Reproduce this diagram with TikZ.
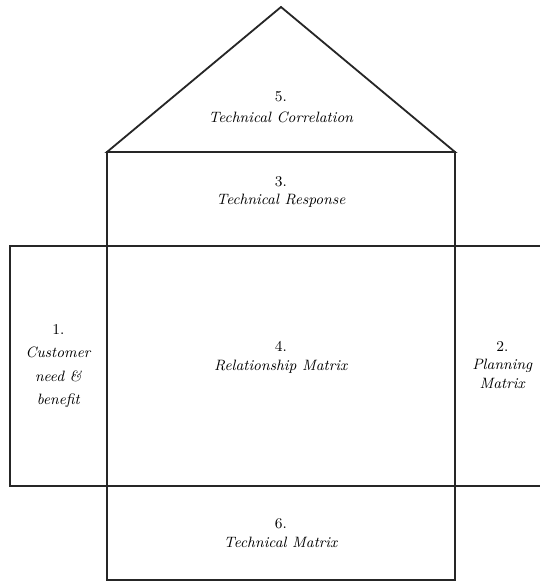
\documentclass[tikz,border=0pt]{standalone}
\usetikzlibrary{positioning}
\tikzstyle{box}=[rectangle,draw=black!85,line width=1.1pt,outer sep=0pt,
inner sep=0pt,align=center,font=\small,minimum width=208.8pt]
\tikzstyle{sidebox}=[rectangle,outer sep=0pt,inner sep=0pt,
align=center,font=\small,minimum height=144pt]
\tikzstyle{wall}=[draw=black!85,line width=1.1pt]

\begin{document}
\begin{tikzpicture}[node distance=0pt]
            \useasboundingbox (-168.6pt,-129.6pt) rectangle (155.4pt,219.6pt);

            % MIDDLE COLUMN

            \node[box,minimum height=144pt,text depth=12pt] (rel) {4.\\\textit{Relationship Matrix}};
            \node[box,minimum height=56.4pt,text depth=10pt,above=of rel] (resp) {3.\\\textit{Technical Response}};
            \node[box,minimum height=56.4pt,below=of rel] (techm) {6.\\\textit{Technical Matrix}};

            % SIDE BOXES

            \node[sidebox,wall,minimum width=58.2pt,left=of rel] (cust)
                {1.\\[3pt]\textit{Customer}\\[3pt]\textit{need \&}\\[3pt]\textit{benefit}};
            \node[sidebox,minimum width=51pt,right=of rel] (plan)
                {\hspace*{6pt}\raisebox{2.5pt}{\begin{tabular}{@{}c@{}}2.\\\textit{Planning}\\\textit{Matrix}\end{tabular}}};
            \path[wall] (rel.north east) -- (plan.north east);
            \path[wall] (rel.south east) -- (plan.south east);

            % ROOF

            \coordinate[above=87pt of resp.north] (apex);
            \path[wall,line join=miter] (resp.north west) -- (apex) -- (resp.north east) -- cycle;
            \node[align=center,font=\small,yshift=27pt] (corr) at (resp.north)
                {5.\\[2pt]\textit{Technical Correlation}};

\end{tikzpicture}
\end{document}
